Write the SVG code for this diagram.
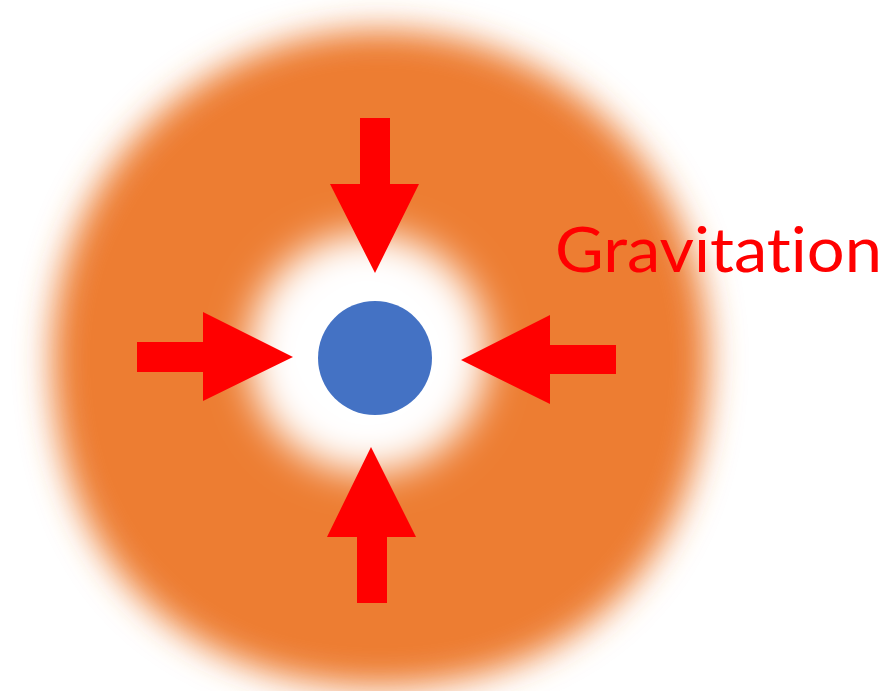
<svg xmlns="http://www.w3.org/2000/svg" width="892" height="691" viewBox="0 0 892 691">
  <defs>
    <filter id="blurOuter" x="-20%" y="-20%" width="140%" height="140%">
      <feGaussianBlur stdDeviation="17"/>
    </filter>
    <filter id="blurInner" x="-50%" y="-50%" width="200%" height="200%">
      <feGaussianBlur stdDeviation="19"/>
    </filter>
    <style>
      .arrow { fill: #FF0000; }
      .label { fill: #FF0000; font-family: Lato, "Open Sans", sans-serif; font-size: 61px; font-variant-ligatures: none; }
    </style>
  </defs>
  <rect width="892" height="691" fill="#FFFFFF"/>
  <g id="cloud">
    <path d="M380,30 C562,30 708,176 708,357 C708,558 580,686 380,686 C180,686 52,558 52,357 C52,176 198,30 380,30 Z" fill="#ED7D31" filter="url(#blurOuter)"/>
    <ellipse cx="368" cy="353" rx="120" ry="120" fill="#FFFFFF" filter="url(#blurInner)"/>
  </g>
  <g id="core">
    <circle cx="375" cy="358" r="57" fill="#4472C4"/>
  </g>
  <g id="connectors">
    <polygon id="arrow-top" class="arrow" points="360,118 390,118 390,184 419,184 375,273 330,184 360,184"/>
    <polygon id="arrow-left" class="arrow" points="137,342 203,342 203,312 293,357 203,401 203,372 137,372"/>
    <polygon id="arrow-right" class="arrow" points="616,345 550,345 550,315 461,360 550,404 550,374 616,374"/>
    <polygon id="arrow-bottom" class="arrow" points="357,603 357,537 327,537 371,447 416,537 387,537 387,603"/>
  </g>
  <g id="label">
    <text class="label" x="555" y="272" textLength="327" lengthAdjust="spacingAndGlyphs">Gravitation</text>
  </g>
</svg>
